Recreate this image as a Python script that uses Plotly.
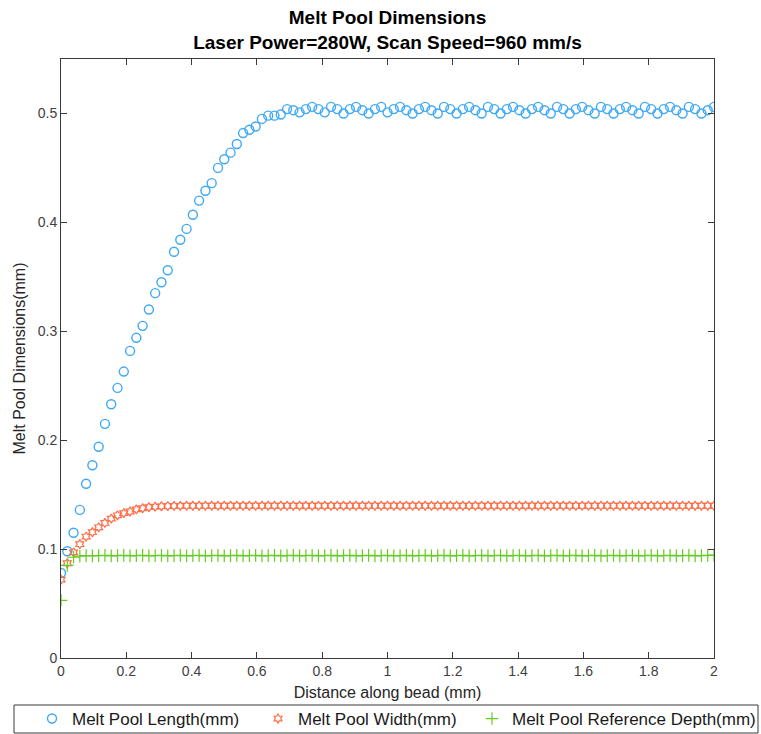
import numpy as np
import plotly.graph_objects as go

# Distance along bead (mm): evenly spaced sampling grid, 105 samples from 0 to 2
distance = np.linspace(0, 2, 105)

melt_pool_length = [
    0.078, 0.098, 0.115, 0.136, 0.160, 0.177, 0.194, 0.215, 0.233, 0.248,
    0.263, 0.282, 0.294, 0.305, 0.320, 0.335, 0.345, 0.356, 0.373, 0.384,
    0.394, 0.407, 0.420, 0.429, 0.436, 0.450, 0.458, 0.464, 0.472, 0.482,
    0.485, 0.488, 0.495, 0.498, 0.498, 0.499, 0.504, 0.503, 0.501, 0.504,
    0.506, 0.504, 0.501, 0.506, 0.504, 0.500, 0.504, 0.506, 0.503, 0.500,
    0.504, 0.506, 0.501, 0.504, 0.506, 0.503, 0.500, 0.504, 0.506, 0.503,
    0.500, 0.506, 0.504, 0.500, 0.504, 0.506, 0.503, 0.500, 0.506, 0.504,
    0.500, 0.504, 0.506, 0.503, 0.500, 0.504, 0.506, 0.503, 0.500, 0.506,
    0.504, 0.500, 0.504, 0.506, 0.503, 0.500, 0.506, 0.504, 0.500, 0.504,
    0.506, 0.503, 0.500, 0.506, 0.504, 0.500, 0.504, 0.506, 0.503, 0.500,
    0.506, 0.504, 0.500, 0.503, 0.506,
]

melt_pool_width = [
    0.072, 0.087, 0.097, 0.1045, 0.1115, 0.1155, 0.120, 0.124, 0.128, 0.131,
    0.133, 0.1345, 0.1365, 0.1375, 0.1385, 0.139, 0.1393, 0.1395, 0.1397, 0.1397,
    0.1398, 0.1398, 0.1398, 0.1398, 0.1398, 0.1398, 0.1398, 0.1398, 0.1398, 0.1398,
    0.1398, 0.1398, 0.1398, 0.1398, 0.1398, 0.1398, 0.1398, 0.1398, 0.1398, 0.1398,
    0.1398, 0.1398, 0.1398, 0.1398, 0.1398, 0.1398, 0.1398, 0.1398, 0.1398, 0.1398,
    0.1398, 0.1398, 0.1398, 0.1398, 0.1398, 0.1398, 0.1398, 0.1398, 0.1398, 0.1398,
    0.1398, 0.1398, 0.1398, 0.1398, 0.1398, 0.1398, 0.1398, 0.1398, 0.1398, 0.1398,
    0.1398, 0.1398, 0.1398, 0.1398, 0.1398, 0.1398, 0.1398, 0.1398, 0.1398, 0.1398,
    0.1398, 0.1398, 0.1398, 0.1398, 0.1398, 0.1398, 0.1398, 0.1398, 0.1398, 0.1398,
    0.1398, 0.1398, 0.1398, 0.1398, 0.1398, 0.1398, 0.1398, 0.1398, 0.1398, 0.1398,
    0.1398, 0.1398, 0.1398, 0.1398, 0.1398,
]

melt_pool_depth = [
    0.053, 0.085, 0.0925, 0.0935, 0.094, 0.0938, 0.094, 0.0942, 0.0938, 0.094,
    0.0942, 0.0938, 0.094, 0.0942, 0.0938, 0.094, 0.0942, 0.0938, 0.094, 0.0942,
    0.0938, 0.094, 0.0942, 0.0938, 0.094, 0.0942, 0.0938, 0.094, 0.0942, 0.0938,
    0.094, 0.0942, 0.0938, 0.094, 0.0942, 0.0938, 0.094, 0.0942, 0.0938, 0.094,
    0.0942, 0.0938, 0.094, 0.0942, 0.0938, 0.094, 0.0942, 0.0938, 0.094, 0.0942,
    0.0938, 0.094, 0.0942, 0.0938, 0.094, 0.0942, 0.0938, 0.094, 0.0942, 0.0938,
    0.094, 0.0942, 0.0938, 0.094, 0.0942, 0.0938, 0.094, 0.0942, 0.0938, 0.094,
    0.0942, 0.0938, 0.094, 0.0942, 0.0938, 0.094, 0.0942, 0.0938, 0.094, 0.0942,
    0.0938, 0.094, 0.0942, 0.0938, 0.094, 0.0942, 0.0938, 0.094, 0.0942, 0.0938,
    0.094, 0.0942, 0.0938, 0.094, 0.0942, 0.0938, 0.094, 0.0942, 0.0938, 0.094,
    0.0942, 0.0938, 0.094, 0.0942, 0.0945,
]

x_tick_vals = [0, 0.2, 0.4, 0.6, 0.8, 1.0, 1.2, 1.4, 1.6, 1.8, 2.0]
x_tick_text = ["0", "0.2", "0.4", "0.6", "0.8", "1", "1.2", "1.4", "1.6", "1.8", "2"]
y_tick_vals = [0, 0.1, 0.2, 0.3, 0.4, 0.5]
y_tick_text = ["0", "0.1", "0.2", "0.3", "0.4", "0.5"]

FONT = "Liberation Sans, Arial, Helvetica, sans-serif"
AXIS_COLOR = "#3a3a3a"
W, H = 761, 734
ML, MR, MT, MB = 61, 47, 59, 76
PLOT_W = W - ML - MR
PLOT_H = H - MT - MB

fig = go.Figure()
fig.add_trace(go.Scatter(
    x=distance, y=melt_pool_length, mode="markers", name="Melt Pool Length(mm)",
    legend="legend",
    marker=dict(symbol="circle-open", size=9, color="#3fa9f5", line=dict(width=1.4, color="#3fa9f5")),
))
fig.add_trace(go.Scatter(
    x=distance, y=melt_pool_width, mode="markers", name="Melt Pool Width(mm)",
    legend="legend2",
    marker=dict(symbol="hexagram-open", size=7, color="#ff6e46", line=dict(width=1.2, color="#ff6e46")),
))
fig.add_trace(go.Scatter(
    x=distance, y=melt_pool_depth, mode="markers", name="Melt Pool Reference Depth(mm)",
    legend="legend3",
    marker=dict(symbol="cross-thin-open", size=9, color="#66cc22", line=dict(width=1.2, color="#66cc22")),
))

axis_common = dict(
    showline=True, mirror="ticks", linecolor=AXIS_COLOR, linewidth=1,
    ticks="inside", ticklen=6, tickcolor=AXIS_COLOR, tickwidth=1,
    showgrid=False, zeroline=False, automargin=False,
    tickfont=dict(family=FONT, size=14, color="#404040"),
)

# legend entries laid out in one row inside a single framed box below the axes
legend_row_y = 1 - 719 / H
legend_text_starts = [72, 298, 512]


def legend_cfg(text_start):
    return dict(
        orientation="h", xref="container", yref="container",
        x=(text_start - 40) / W, xanchor="left", y=legend_row_y, yanchor="middle",
        borderwidth=0, bgcolor="rgba(0,0,0,0)",
        font=dict(family=FONT, size=17, color="#1a1a1a"),
        itemwidth=30,
    )


fig.update_layout(
    width=W, height=H,
    margin=dict(l=ML, r=MR, t=MT, b=MB),
    paper_bgcolor="white", plot_bgcolor="white",
    font=dict(family=FONT, color="#262626"),
    title=dict(
        text="<b>Melt Pool Dimensions</b><br><b>Laser Power=280W, Scan Speed=960 mm/s</b>",
        x=(ML + ML + PLOT_W) / 2 / W, xanchor="center",
        y=1 - 24 / H, yanchor="top", yref="container",
        font=dict(family=FONT, size=19, color="#000000"),
    ),
    xaxis=dict(
        range=[0, 2], tickvals=x_tick_vals, ticktext=x_tick_text,
        title=dict(text="Distance along bead (mm)", standoff=10,
                   font=dict(family=FONT, size=16, color="#262626")),
        **axis_common,
    ),
    yaxis=dict(
        range=[0, 0.55], tickvals=y_tick_vals, ticktext=y_tick_text,
        title=dict(text="Melt Pool Dimensions(mm)", standoff=8,
                   font=dict(family=FONT, size=16, color="#262626")),
        **axis_common,
    ),
    legend=legend_cfg(legend_text_starts[0]),
    legend2=legend_cfg(legend_text_starts[1]),
    legend3=legend_cfg(legend_text_starts[2]),
    showlegend=True,
    shapes=[dict(
        type="rect", xref="paper", yref="paper",
        x0=(14 - ML) / PLOT_W, x1=(758 - ML) / PLOT_W,
        y0=(MT + PLOT_H - 733) / PLOT_H, y1=(MT + PLOT_H - 705) / PLOT_H,
        line=dict(color="#3a3a3a", width=1), fillcolor="rgba(0,0,0,0)",
    )],
)

fig.write_html("out.html")
